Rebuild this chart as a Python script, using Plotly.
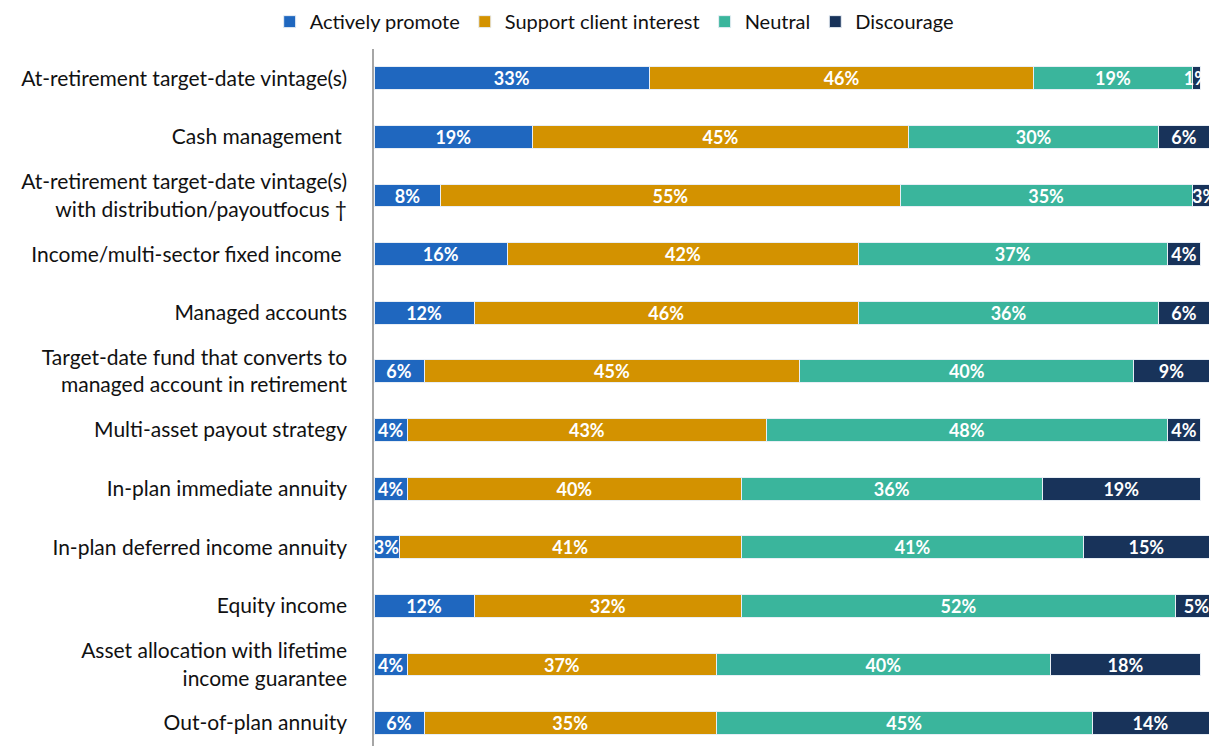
import plotly.graph_objects as go

categories = [
    "At-retirement target-date vintage(s)",
    "Cash management ",
    "At-retirement target-date vintage(s)<br>with distribution/payoutfocus †",
    "Income/multi-sector fixed income ",
    "Managed accounts",
    "Target-date fund that converts to<br>managed account in retirement",
    "Multi-asset payout strategy",
    "In-plan immediate annuity",
    "In-plan deferred income annuity",
    "Equity income",
    "Asset allocation with lifetime<br>income guarantee",
    "Out-of-plan annuity",
]

actively_promote = [33, 19, 8, 16, 12, 6, 4, 4, 3, 12, 4, 6]
support_client_interest = [46, 45, 55, 42, 46, 45, 43, 40, 41, 32, 37, 35]
neutral = [19, 30, 35, 37, 36, 40, 48, 36, 41, 52, 40, 45]
discourage = [1, 6, 3, 4, 6, 9, 4, 19, 15, 5, 18, 14]

series = [
    ("Actively promote", actively_promote, "#1F67BF"),
    ("Support client interest", support_client_interest, "#D39200"),
    ("Neutral", neutral, "#3AB59C"),
    ("Discourage", discourage, "#18335A"),
]

FONT = "Lato"

fig = go.Figure()
for name, values, color in series:
    fig.add_trace(go.Bar(
        y=categories,
        x=values,
        name=name,
        orientation="h",
        marker=dict(color=color, line=dict(color="#e8eef5", width=1)),
        texttemplate="%{x}%",
        textposition="inside",
        insidetextanchor="middle",
        textangle=0,
        constraintext="none",
        textfont=dict(family=FONT, size=18, color="white", weight="bold"),
        cliponaxis=True,
    ))

fig.update_layout(
    barmode="stack",
    bargap=0.61,
    width=1209,
    height=746,
    margin=dict(l=374, r=0, t=49, b=0),
    paper_bgcolor="white",
    plot_bgcolor="white",
    font=dict(family=FONT, size=20, color="#111111"),
    legend=dict(
        orientation="h",
        x=0.508, xanchor="center", xref="container",
        y=0.971, yanchor="middle", yref="container",
        font=dict(family=FONT, size=20, color="#111111"),
        traceorder="normal",
        itemwidth=30,
        tracegroupgap=0,
    ),
    showlegend=True,
)

fig.update_xaxes(
    range=[0, 100],
    showgrid=False,
    zeroline=False,
    showticklabels=False,
    showline=False,
)
fig.update_yaxes(
    type="category",
    range=[11.39, -0.5],
    showgrid=False,
    showline=True,
    linecolor="#a6a6a6",
    linewidth=1.5,
    ticks="",
    ticklabelstandoff=21,
    tickfont=dict(family=FONT, size=21, color="#111111"),
)

fig.write_html("out.html")
